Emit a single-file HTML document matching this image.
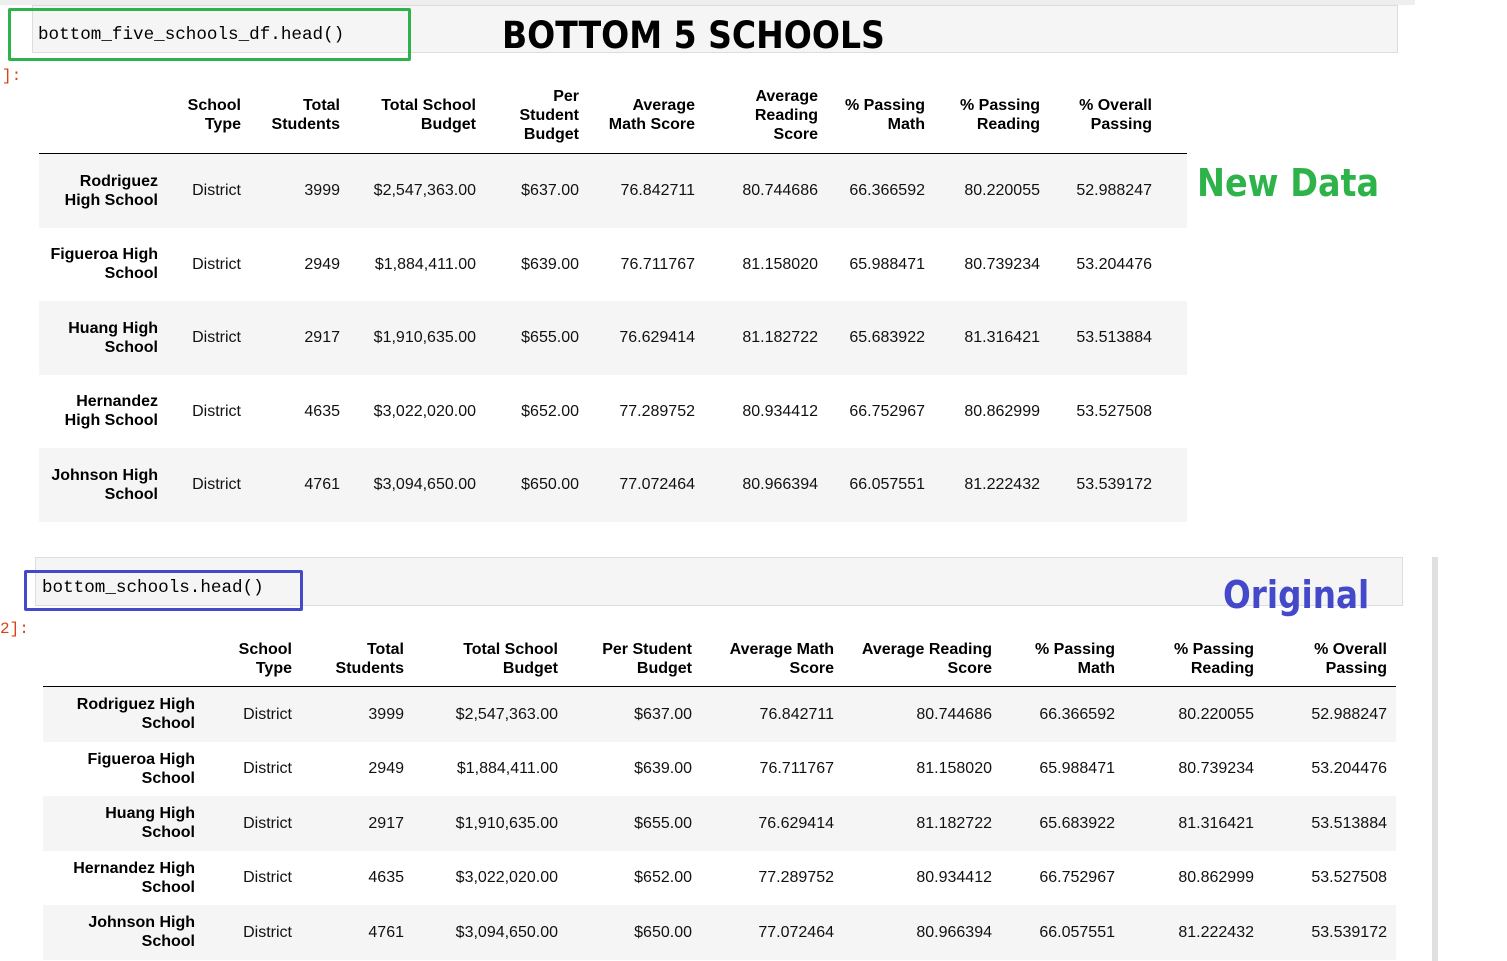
<!DOCTYPE html>
<html><head><meta charset="utf-8">
<style>
body{margin:0;width:1507px;height:961px;background:#fff;position:relative;overflow:hidden;font-family:"Liberation Sans",Arial,sans-serif;color:#000}
.a{position:absolute;white-space:nowrap}
.mono{font-family:"Liberation Mono","DejaVu Sans Mono",monospace;font-size:17.6px;color:#000}
.th{font-weight:bold;font-size:16px;line-height:19px;text-align:right}
.td{font-size:16px;line-height:19px;text-align:right;color:#111}
.big{font-weight:bold;font-family:'DejaVu Sans','Liberation Sans',sans-serif;transform-origin:left center}
</style></head><body>
<div class="a" style="left:0;top:0;width:1415px;height:5px;background:#eee"></div>
<div class="a" style="left:32px;top:5px;width:1366px;height:48px;background:#f5f5f5;border:1px solid #ddd;box-sizing:border-box"></div>
<div class="a" style="left:8px;top:8px;width:403px;height:53px;border:3px solid #2db34a;box-sizing:border-box;border-radius:2px"></div>
<div class="a mono" style="left:38px;top:25px">bottom_five_schools_df.head()</div>
<div class="a big" style="left:502px;top:14px;font-size:37px;transform:scaleX(0.893)">BOTTOM 5 SCHOOLS</div>
<div class="a" style="left:2px;top:67px;color:#d84315;font-family:'Liberation Mono',monospace;font-size:16px">]:</div>
<div class="a big" style="left:1197px;top:161px;font-size:38px;color:#2db34a;transform:scaleX(0.88)">New Data</div>

<div class="a" style="left:35px;top:557px;width:1368px;height:49px;background:#f5f5f5;border:1px solid #ddd;box-sizing:border-box"></div>
<div class="a" style="left:24px;top:570px;width:279px;height:41px;border:3px solid #4349c9;box-sizing:border-box;border-radius:2px"></div>
<div class="a mono" style="left:42px;top:578px">bottom_schools.head()</div>
<div class="a big" style="left:1223px;top:573px;font-size:38px;color:#4349c9;transform:scaleX(0.86)">Original</div>
<div class="a" style="left:0;top:620px;color:#d84315;font-family:'Liberation Mono',monospace;font-size:16px">2]:</div>
<div class="a" style="left:1432px;top:557px;width:6px;height:404px;background:#e0e0e0"></div>

<script>
const schools=[["Rodriguez","High School"],["Figueroa High","School"],["Huang High","School"],["Hernandez","High School"],["Johnson High","School"]];
const schools2=[["Rodriguez High","School"],["Figueroa High","School"],["Huang High","School"],["Hernandez High","School"],["Johnson High","School"]];
const types=["District","District","District","District","District"];
const students=["3999","2949","2917","4635","4761"];
const budgets=["$2,547,363.00","$1,884,411.00","$1,910,635.00","$3,022,020.00","$3,094,650.00"];
const perStudent=["$637.00","$639.00","$655.00","$652.00","$650.00"];
const mathScores=["76.842711","76.711767","76.629414","77.289752","77.072464"];
const readScores=["80.744686","81.158020","81.182722","80.934412","80.966394"];
const passMath=["66.366592","65.988471","65.683922","66.752967","66.057551"];
const passRead=["80.220055","80.739234","81.316421","80.862999","81.222432"];
const overall=["52.988247","53.204476","53.513884","53.527508","53.539172"];
const headers1=[["School","Type"],["Total","Students"],["Total School","Budget"],["Per","Student","Budget"],["Average","Math Score"],["Average","Reading","Score"],["% Passing","Math"],["% Passing","Reading"],["% Overall","Passing"]];
const headers2=[["School","Type"],["Total","Students"],["Total School","Budget"],["Per Student","Budget"],["Average Math","Score"],["Average Reading","Score"],["% Passing","Math"],["% Passing","Reading"],["% Overall","Passing"]];
const cols=[types,students,budgets,perStudent,mathScores,readScores,passMath,passRead,overall];

function el(cls,txt,left,right,cy,lines){
  const d=document.createElement('div');
  d.className='a '+cls;
  d.innerHTML=txt;
  d.style.right=(1507-right)+'px';
  d.style.top=(cy-lines*19/2)+'px';
  document.body.appendChild(d);
  return d;
}
function table(cfg){
  const {idx,hdr,hdrY,lineY,x0,x1,rowTop,rowH,idxRight,rights,name}=cfg;
  const ln=document.createElement('div');
  ln.className='a';ln.style.cssText=`left:${x0}px;top:${lineY}px;width:${x1-x0}px;height:1px;background:#000`;
  
  
  document.body.appendChild(ln);
  hdr.forEach((h,i)=>{
    const d=el('th',h.join('<br>'),0,rights[i],hdrY,h.length);
    
    
  });
  idx.forEach((s,r)=>{
    const top=rowTop+r*rowH;
    const bg=document.createElement('div');
    bg.className='a';
    bg.style.cssText=`left:${x0}px;top:${top}px;width:${x1-x0}px;height:${rowH}px;background:${r%2==0?'#f5f5f5':'#fff'}`;
    
    
    document.body.appendChild(bg);
    const cy=top+rowH/2;
    const ix=el('th',s.join('<br>'),0,idxRight,cy,2);
    
    
    cols.forEach((c,i)=>{
      const d=el('td',c[r],0,rights[i],cy,1);
      
      
    });
  });
}
table({name:'new-table',idx:schools,hdr:headers1,hdrY:115,lineY:153,x0:39,x1:1187,rowTop:154,rowH:73.5,idxRight:158,rights:[241,340,476,579,695,818,925,1040,1152]});
table({name:'original-table',idx:schools2,hdr:headers2,hdrY:659,lineY:686,x0:43,x1:1396,rowTop:687,rowH:54.5,idxRight:195,rights:[292,404,558,692,834,992,1115,1254,1387]});
</script>
</body></html>
